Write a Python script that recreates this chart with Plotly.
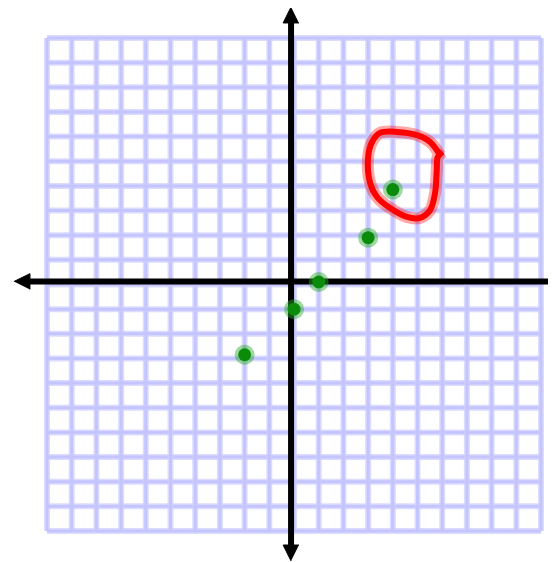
import plotly.graph_objects as go

# puntos verdes dibujados a mano (en unidades de la cuadricula)
puntos_x = [-2.0, 0.0, 1.0, 3.0, 4.0]
puntos_y = [-2.85, -1.0, 0.1, 1.9, 3.85]

# circulo rojo alrededor del punto atipico
lazo_x = [5.91, 5.51, 4.98, 4.17, 3.48, 3.16, 3.00, 3.08, 3.36, 3.89, 4.57, 5.10, 5.51, 5.71, 5.78, 5.82, 6.02]
lazo_y = [5.25, 5.78, 6.06, 6.19, 6.15, 5.78, 5.17, 4.12, 3.55, 3.10, 2.74, 2.70, 3.02, 3.71, 4.65, 5.17, 5.38]

# lineas de la cuadricula
cuadricula = list(range(-10, 11))

# ejes (ligeramente desplazados, como en el dibujo)
eje_x0 = -0.12
eje_y0 = 0.12
punta_izq, punta_der = -11.34, 11.14
punta_arr, punta_abj = 11.26, -11.22

fig = go.Figure()

# cuadricula
for v in cuadricula:
    for w, c in [(6, 'rgba(205,205,255,0.7)'), (3, 'rgb(196,196,255)')]:
        fig.add_shape(type='line', x0=v, x1=v, y0=-10, y1=10, line=dict(color=c, width=w), layer='below')
        fig.add_shape(type='line', x0=-10, x1=10, y0=v, y1=v, line=dict(color=c, width=w), layer='below')

# ejes
fig.add_trace(go.Scatter(x=[punta_izq + 0.5, punta_der], y=[eje_y0, eje_y0], mode='lines',
                         line=dict(color='black', width=6), hoverinfo='skip'))
fig.add_trace(go.Scatter(x=[eje_x0, eje_x0], y=[punta_abj + 0.5, punta_arr - 0.5], mode='lines',
                         line=dict(color='black', width=6), hoverinfo='skip'))

# puntas de flecha
L, H = 0.65, 0.32
flechas = [
    ([punta_izq, punta_izq + L, punta_izq + L], [eje_y0, eje_y0 + H, eje_y0 - H]),
    ([punta_der, punta_der - L, punta_der - L], [eje_y0, eje_y0 + H, eje_y0 - H]),
    ([eje_x0, eje_x0 - H, eje_x0 + H], [punta_arr, punta_arr - L, punta_arr - L]),
    ([eje_x0, eje_x0 - H, eje_x0 + H], [punta_abj, punta_abj + L, punta_abj + L]),
]
for fx, fy in flechas:
    fig.add_trace(go.Scatter(x=fx, y=fy, fill='toself', fillcolor='black', mode='lines',
                             line=dict(color='black', width=1), hoverinfo='skip'))

# lazo rojo
fig.add_trace(go.Scatter(x=lazo_x, y=lazo_y, mode='lines', line=dict(color='rgba(255,0,0,0.35)', width=12, shape='spline')))
fig.add_trace(go.Scatter(x=lazo_x, y=lazo_y, mode='lines', line=dict(color='rgb(255,0,0)', width=6, shape='spline')))

# puntos verdes
fig.add_trace(go.Scatter(x=puntos_x, y=puntos_y, mode='markers',
                         marker=dict(size=20, color='rgba(40,170,40,0.45)', line=dict(width=0))))
fig.add_trace(go.Scatter(x=puntos_x, y=puntos_y, mode='markers',
                         marker=dict(size=13, color='rgb(10,140,10)', line=dict(width=0))))

# rangos compensando el margen de 8px del navegador
fig.update_layout(
    width=556, height=562,
    margin=dict(l=0, r=0, t=0, b=0),
    showlegend=False,
    plot_bgcolor='white', paper_bgcolor='white',
    xaxis=dict(range=[-11.579, 10.93], visible=False, fixedrange=True),
    yaxis=dict(range=[-11.583, 11.217], visible=False, fixedrange=True),
)

fig.write_html("out.html")
